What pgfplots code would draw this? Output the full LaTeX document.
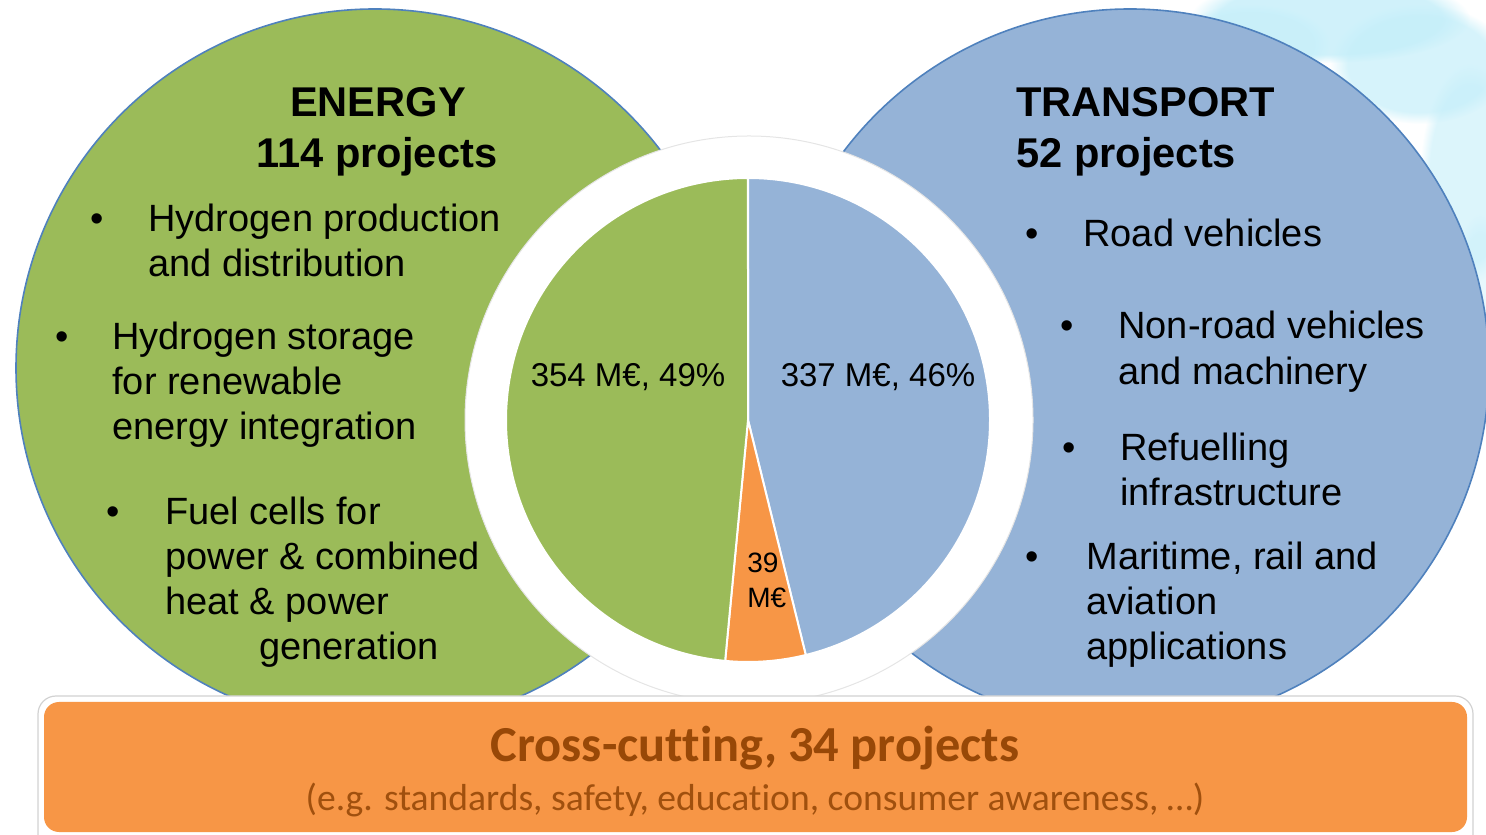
\documentclass[border=0pt]{standalone}
\usepackage{pgfplots}
\pgfplotsset{compat=1.18}
\usepackage{pgfplotstable}
\usepackage{fontspec}
\setmainfont{Liberation Sans}
\newfontfamily\carlito[Ligatures=NoCommon]{Carlito}
\usetikzlibrary{fadings}
\definecolor{egreen}{HTML}{9BBB59}
\definecolor{tblue}{HTML}{95B3D7}
\definecolor{corange}{HTML}{F79646}
\definecolor{edgeblue}{HTML}{4F81BD}
\definecolor{ctitle}{HTML}{984807}
\definecolor{csub}{HTML}{A0500E}
\definecolor{cloud}{HTML}{C4EEF9}

\pgfplotstableread{
sector value
Transport 337
Crosscutting 39
Energy 354
}\piedata

\begin{document}
\begin{tikzpicture}
\pgfplotstablegetelem{0}{value}\of\piedata \edef\vT{\pgfplotsretval}
\pgfplotstablegetelem{1}{value}\of\piedata \edef\vC{\pgfplotsretval}
\pgfplotstablegetelem{2}{value}\of\piedata \edef\vE{\pgfplotsretval}
\pgfmathsetmacro\tot{\vT+\vC+\vE}
\pgfmathsetmacro\aT{90-360*(\vT/\tot)}
\pgfmathsetmacro\aC{\aT-360*(\vC/\tot)}
\pgfmathsetmacro\aE{\aC-360*(\vE/\tot)}
\begin{axis}[scale only axis, width=743pt, height=417pt,
  xmin=0, xmax=1486, ymin=0, ymax=834, hide axis, clip=true]
% background clouds
\fill[cloud, opacity=0.8, path fading=circle with fuzzy edge 20 percent] (axis cs:1330,815) ellipse [x radius=70pt, y radius=22pt];
\fill[cloud, opacity=0.7, path fading=circle with fuzzy edge 20 percent] (axis cs:1420,770) ellipse [x radius=45pt, y radius=30pt];
\fill[cloud, opacity=0.6, path fading=circle with fuzzy edge 20 percent] (axis cs:1250,790) ellipse [x radius=40pt, y radius=20pt];
\fill[cloud, opacity=0.6, path fading=circle with fuzzy edge 20 percent] (axis cs:1470,660) ellipse [x radius=25pt, y radius=55pt];
\fill[cloud, opacity=0.4, path fading=circle with fuzzy edge 20 percent] (axis cs:1480,520) ellipse [x radius=15pt, y radius=50pt];
% big circles
\filldraw[fill=egreen, draw=edgeblue, line width=0.8pt] (axis cs:375,466) circle[radius=179.5pt];
\filldraw[fill=tblue, draw=edgeblue, line width=0.8pt] (axis cs:1130,466) circle[radius=179.5pt];
% white ring
\filldraw[fill=white, draw=gray!20, line width=0.5pt] (axis cs:749,414) circle[radius=142pt];
% pie wedges
\filldraw[fill=tblue, draw=white, line width=1pt] (axis cs:748,414) -- ++(90:121pt) arc[start angle=90, end angle=\aT, radius=121pt] -- cycle;
\filldraw[fill=corange, draw=white, line width=1pt] (axis cs:748,414) -- ++(\aT:121pt) arc[start angle=\aT, end angle=\aC, radius=121pt] -- cycle;
\filldraw[fill=egreen, draw=white, line width=1pt] (axis cs:748,414) -- ++(\aC:121pt) arc[start angle=\aC, end angle=\aE, radius=121pt] -- cycle;
% pie labels
\node[anchor=base, font=\fontsize{16.5pt}{19pt}\selectfont, inner sep=0] at (axis cs:628,447) {354 M€, 49\%};
\node[anchor=base, font=\fontsize{16.5pt}{19pt}\selectfont, inner sep=0] at (axis cs:878,447) {337 M€, 46\%};
\node[anchor=base west, font=\fontsize{14pt}{17pt}\selectfont, inner sep=0] at (axis cs:747,261) {39};
\node[anchor=base west, font=\fontsize{14pt}{17pt}\selectfont, inner sep=0] at (axis cs:747,226) {M€};
% titles
\node[anchor=base, font=\fontsize{20.8pt}{25pt}\selectfont\bfseries, inner sep=0] at (axis cs:378,717) {ENERGY};
\node[anchor=base, font=\fontsize{20.8pt}{25pt}\selectfont\bfseries, inner sep=0] at (axis cs:377,666) {114 projects};
\node[anchor=base west, font=\fontsize{20.8pt}{25pt}\selectfont\bfseries, inner sep=0] at (axis cs:1016,717) {TRANSPORT};
\node[anchor=base west, font=\fontsize{20.8pt}{25pt}\selectfont\bfseries, inner sep=0] at (axis cs:1016,666) {52 projects};
% bullets
\begin{scope}[every node/.style={font=\fontsize{19pt}{22.5pt}\selectfont, inner sep=0}]
\node[anchor=base] at (axis cs:97,602) {•};
\node[anchor=base west] at (axis cs:148,602) {Hydrogen production};
\node[anchor=base west] at (axis cs:148,557) {and distribution};
\node[anchor=base] at (axis cs:62,484) {•};
\node[anchor=base west] at (axis cs:112,484) {Hydrogen storage};
\node[anchor=base west] at (axis cs:112,439) {for renewable};
\node[anchor=base west] at (axis cs:112,394) {energy integration};
\node[anchor=base] at (axis cs:113,309) {•};
\node[anchor=base west] at (axis cs:165,309) {Fuel cells for};
\node[anchor=base west] at (axis cs:165,264) {power \& combined};
\node[anchor=base west] at (axis cs:165,219) {heat \& power};
\node[anchor=base west] at (axis cs:259,174) {generation};
\node[anchor=base] at (axis cs:1032,587) {•};
\node[anchor=base west] at (axis cs:1083,587) {Road vehicles};
\node[anchor=base] at (axis cs:1067,495) {•};
\node[anchor=base west] at (axis cs:1118,495) {Non-road vehicles};
\node[anchor=base west] at (axis cs:1118,449) {and machinery};
\node[anchor=base] at (axis cs:1069,373) {•};
\node[anchor=base west] at (axis cs:1120,373) {Refuelling};
\node[anchor=base west] at (axis cs:1120,328) {infrastructure};
\node[anchor=base] at (axis cs:1032,264) {•};
\node[anchor=base west] at (axis cs:1086,264) {Maritime, rail and};
\node[anchor=base west] at (axis cs:1086,219) {aviation};
\node[anchor=base west] at (axis cs:1086,174) {applications};
\end{scope}
% cross-cutting box
\filldraw[fill=white, draw=gray!35, line width=0.6pt, rounded corners=9pt] (axis cs:38,138) rectangle (axis cs:1473,-20);
\fill[corange, rounded corners=7.5pt] (axis cs:44,132) rectangle (axis cs:1467,2);
\node[anchor=base, font=\carlito\fontsize{25.2pt}{30pt}\selectfont\bfseries, text=ctitle, inner sep=0] at (axis cs:755,72) {Cross-cutting, 34 projects};
\node[anchor=base, font=\carlito\fontsize{18.8pt}{22pt}\selectfont, text=csub, inner sep=0] at (axis cs:755,24) {(e.g. standards, safety, education, consumer awareness, …)};
\end{axis}
\pgfresetboundingbox
\useasboundingbox (current axis.south west) rectangle (current axis.north east);
\end{tikzpicture}
\end{document}
